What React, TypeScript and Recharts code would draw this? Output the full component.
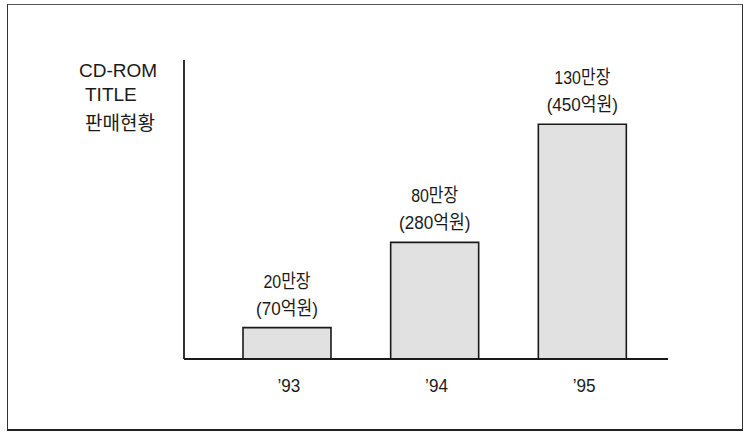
import { Bar, BarChart, LabelList, XAxis, YAxis } from "recharts";

// CD-ROM 타이틀 판매현황 ('93–'95)
const years = ["’93", "’94", "’95"];
const salesUnits = [20, 80, 130]; // 만장
const salesRevenue = [70, 280, 450]; // 억원
// bar heights as drawn in the figure, read on a 0–200 (만장) scale
const drawnHeights = [21, 78, 157];
const titleLines = ["CD-ROM", "TITLE", "판매현황"];

const FONT = "'Liberation Sans', 'Noto Sans CJK KR', sans-serif";
const INK = "#1a1a1a";

const data = years.map((year, i) => ({
  year,
  height: drawnHeights[i],
  units: `${salesUnits[i]}만장`,
  revenue: `(${salesRevenue[i]}억원)`,
}));

function BarLabel(props: any) {
  const vb = props.viewBox ?? {};
  const x = props.x ?? vb.x;
  const y = props.y ?? vb.y;
  const width = props.width ?? vb.width;
  const idx = props.index ?? years.indexOf(props.value);
  const row = data[idx];
  if (!row || x == null) return null;
  const cx = x + width / 2;
  return (
    <g fontFamily={FONT} fontSize={19} fill={INK}>
      <text transform={`translate(${cx} ${y - 40}) scale(0.84 1)`} textAnchor="middle">
        {row.units}
      </text>
      <text transform={`translate(${cx} ${y - 13}) scale(0.9 1)`} textAnchor="middle">
        {row.revenue}
      </text>
    </g>
  );
}

function YearTick(props: any) {
  const { x, y, payload } = props;
  return (
    <text
      transform={`translate(${x + 2} ${y + 33}) scale(0.9 1)`}
      textAnchor="middle"
      fontFamily={FONT}
      fontSize={19}
      fill={INK}
    >
      {payload.value}
    </text>
  );
}

export default function App() {
  return (
    <div style={{ position: "absolute", left: 0, top: 0, width: 745, height: 434, background: "#fff" }}>
      <div
        style={{
          position: "absolute",
          left: 7,
          top: 4,
          width: 734,
          height: 424,
          borderTop: "1px solid #555",
          borderLeft: "1.5px solid #333",
          borderRight: "1.5px solid #333",
          borderBottom: "2px solid #222",
        }}
      />
      {titleLines.map((t, i) => (
        <div
          key={t}
          style={{
            position: "absolute",
            left: i === 0 ? 79 : 85,
            top: 60 + i * 24,
            fontFamily: FONT,
            fontSize: 19,
            color: INK,
            whiteSpace: "nowrap",
            lineHeight: "normal",
          }}
        >
          {t}
        </div>
      ))}
      <div style={{ position: "absolute", left: 0, top: 0 }}>
        <BarChart width={745} height={434} data={data} margin={{ top: 60, right: 77, bottom: 35, left: 183 }}>
          <XAxis
            dataKey="year"
            height={40}
            padding={{ left: 29, right: 12 }}
            axisLine={{ stroke: INK, strokeWidth: 1.8 }}
            tickLine={false}
            tickSize={0}
            tickMargin={0}
            tick={<YearTick />}
            interval={0}
          />
          <YAxis
            width={1}
            domain={[0, 200]}
            tick={false}
            tickLine={false}
            axisLine={{ stroke: INK, strokeWidth: 1.8 }}
          />
          <Bar dataKey="height" barSize={88} fill="#e1e1e1" stroke={INK} strokeWidth={1.6} isAnimationActive={false}>
            <LabelList dataKey="year" content={<BarLabel />} />
          </Bar>
        </BarChart>
      </div>
    </div>
  );
}
